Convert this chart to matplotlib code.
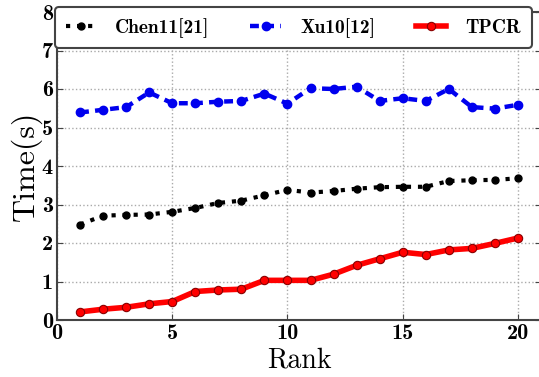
import matplotlib
matplotlib.use("Agg")
import matplotlib.pyplot as plt

# Retrieval time per rank for each method
rank = list(range(1, 21))
chen11 = [2.48, 2.71, 2.73, 2.74, 2.81, 2.91, 3.04, 3.10, 3.24, 3.38,
          3.31, 3.35, 3.41, 3.45, 3.46, 3.46, 3.61, 3.63, 3.64, 3.68]
xu10 = [5.39, 5.46, 5.53, 5.91, 5.63, 5.63, 5.67, 5.69, 5.88, 5.62,
        6.02, 6.00, 6.06, 5.69, 5.76, 5.69, 6.00, 5.53, 5.49, 5.59]
tpcr = [0.21, 0.28, 0.33, 0.42, 0.48, 0.74, 0.78, 0.80, 1.03, 1.03,
        1.03, 1.19, 1.42, 1.59, 1.76, 1.70, 1.82, 1.86, 1.99, 2.13]

series_labels = ["Chen11[21]", "Xu10[12]", "TPCR"]
x_ticks = [0, 5, 10, 15, 20]
y_ticks = [0, 1, 2, 3, 4, 5, 6, 7, 8]

plt.rcParams["axes.unicode_minus"] = False

fig = plt.figure(figsize=(5.39, 3.77), dpi=100)
ax = fig.add_axes([57 / 539, 57 / 377, 484 / 539, 308 / 377])

ax.plot(rank, chen11, color="black", linestyle=":", linewidth=3,
        marker="o", markersize=5, label=series_labels[0], zorder=3)
ax.plot(rank, xu10, color="#0000ee", linestyle="--", dashes=(2.0, 1.4),
        linewidth=3.2, marker="o", markersize=6, label=series_labels[1],
        zorder=3)
ax.plot(rank, tpcr, color="#ff0000", linestyle="-", linewidth=4,
        marker="o", markersize=6, markeredgecolor="#880000",
        markeredgewidth=0.8, label=series_labels[2], zorder=3)

ax.set_xlim(0, 21)
ax.set_ylim(0, 8)
ax.set_xticks(x_ticks)
ax.set_yticks(y_ticks)
ax.grid(True, linestyle=":", color="#aaaaaa", linewidth=1)
ax.set_axisbelow(True)

for side in ("left", "bottom", "right", "top"):
    ax.spines[side].set_color("#444444")
    ax.spines[side].set_linewidth(1.5)

ax.tick_params(direction="in", top=True, right=True, length=4,
               color="#444444", pad=3)
for lab in ax.get_xticklabels() + ax.get_yticklabels():
    lab.set_fontfamily("cmb10")
    lab.set_fontsize(16)

ax.set_xlabel("Rank", family="cmr10", fontsize=20, labelpad=3)
ax.set_ylabel("Time(s)", family="cmr10", fontsize=23, labelpad=0)

leg = ax.legend(loc="upper left", bbox_to_anchor=(55 / 539, 1 - 7 / 377),
                bbox_transform=fig.transFigure, ncol=3, frameon=True,
                fancybox=True, edgecolor="#444444", framealpha=1,
                prop={"family": "cmb10", "size": 14}, borderaxespad=0,
                handlelength=1.55, columnspacing=2.1, borderpad=0.55,
                handletextpad=1.0)
leg.get_frame().set_linewidth(1.5)
leg.set_zorder(5)

fig.savefig("out.png", dpi=100)
